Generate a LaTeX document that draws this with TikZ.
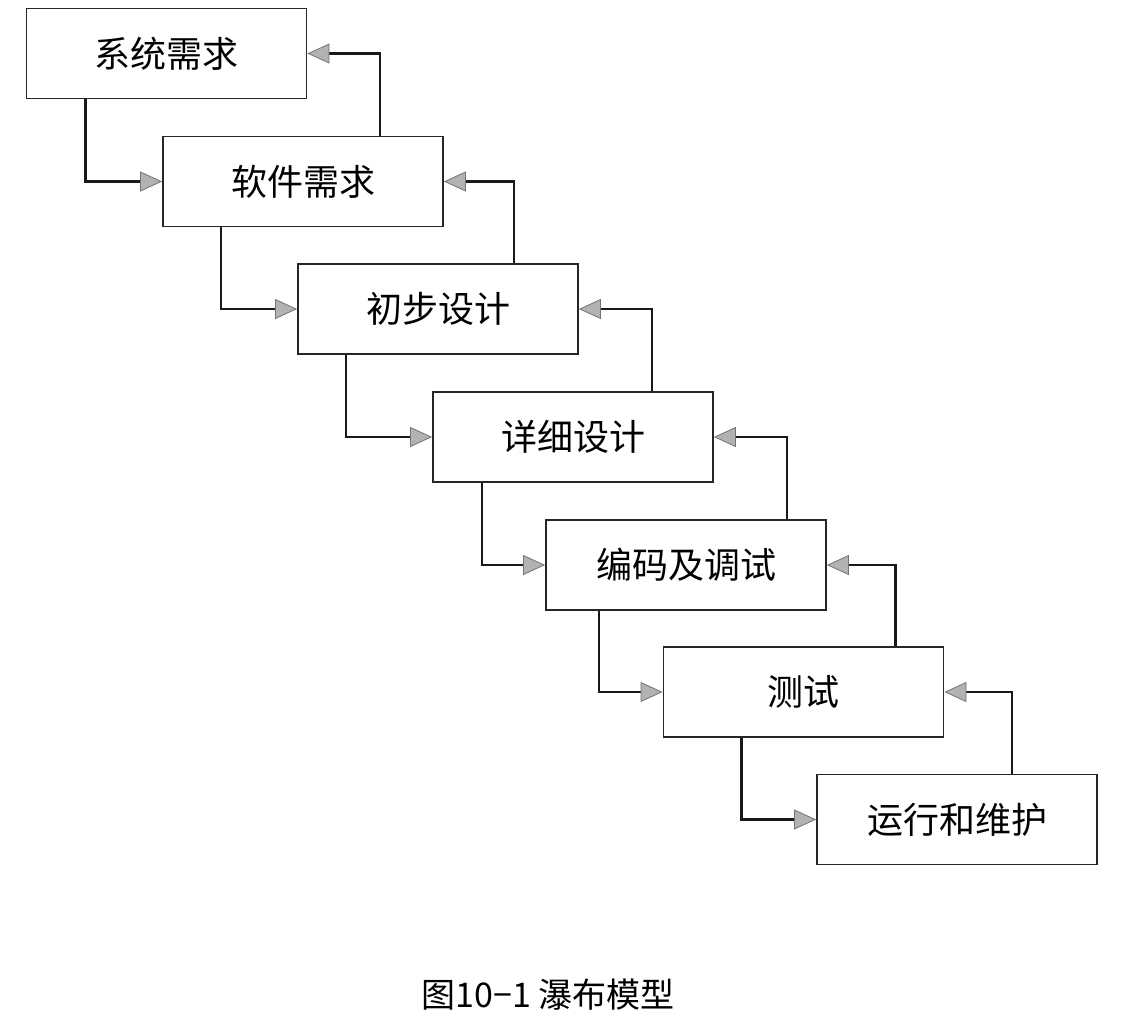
\documentclass[tikz,border=0pt]{standalone}
\usepackage{fontspec}
\newfontfamily\cjk{Noto Sans CJK SC}
\usetikzlibrary{arrows.meta}
\tikzset{
  stage/.style={draw=black!85, line width=1.8pt, minimum width=280pt, minimum height=90pt, inner sep=0pt, font=\cjk\fontsize{36pt}{36pt}\selectfont},
  flow/.style={draw=black!90, line width=2.6pt, -{Triangle[length=22pt,width=20pt,fill=gray!60,color=black!55,line width=0.8pt]}}
}
\begin{document}
\begin{tikzpicture}[x=1pt,y=-1pt]
\useasboundingbox (0,0) rectangle (1146,1017);
\node[stage] (b1) at (166.5,53.5) {系统需求};
\node[stage] (b2) at (303,181.5) {软件需求};
\node[stage] (b3) at (438,309) {初步设计};
\node[stage] (b4) at (573,437) {详细设计};
\node[stage] (b5) at (686,565) {编码及调试};
\node[stage] (b6) at (803.5,692) {测试};
\node[stage] (b7) at (957,819.5) {运行和维护};
% forward
\draw[flow] ([xshift=60pt]b1.south west) |- (b2.west);
\draw[flow] ([xshift=59pt]b2.south west) |- (b3.west);
\draw[flow] ([xshift=49pt]b3.south west) |- (b4.west);
\draw[flow] ([xshift=50pt]b4.south west) |- (b5.west);
\draw[flow] ([xshift=54pt]b5.south west) |- (b6.west);
\draw[flow] ([xshift=79pt]b6.south west) |- (b7.west);
% feedback
\draw[flow] ([xshift=-64pt]b2.north east) |- (b1.east);
\draw[flow] ([xshift=-65pt]b3.north east) |- (b2.east);
\draw[flow] ([xshift=-62pt]b4.north east) |- (b3.east);
\draw[flow] ([xshift=-40pt]b5.north east) |- (b4.east);
\draw[flow] ([xshift=-49pt]b6.north east) |- (b5.east);
\draw[flow] ([xshift=-86pt]b7.north east) |- (b6.east);
\node[font=\cjk\fontsize{34pt}{34pt}\selectfont, inner sep=0pt] (cap) at (548,995) {图10−1 瀑布模型};
\end{tikzpicture}
\end{document}
